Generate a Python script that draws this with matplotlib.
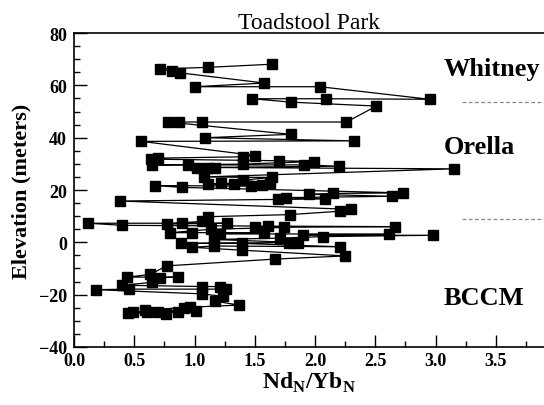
import matplotlib
matplotlib.use('Agg')
import matplotlib.pyplot as plt
from matplotlib.ticker import MultipleLocator, FormatStrFormatter

# Toadstool Park - Nd_N/Yb_N vs elevation
ndyb = [1.64, 1.11, 0.71, 0.81, 0.88, 1.58, 1.00, 2.04, 2.95, 2.09, 1.48, 1.80, 2.51,
        2.26, 1.06, 0.87, 0.78, 1.80, 1.09, 2.32, 0.56,
        1.50, 1.40, 0.70, 0.64, 1.70, 1.99, 1.40, 0.65, 0.95, 1.91, 2.20, 1.02, 1.11, 1.17, 3.15,
        1.08, 1.64, 1.40, 1.63, 1.22, 1.11, 1.56, 1.33, 1.47, 0.67, 0.90,
        2.73, 2.15, 1.95, 2.64, 1.76, 2.08, 1.69, 0.38,
        2.30, 2.21, 1.79, 1.11, 1.06, 0.90, 0.77, 1.27, 0.12, 0.40,
        1.61, 2.66, 1.50, 1.74, 1.14, 0.80, 0.98, 1.58, 1.21, 2.61, 1.90, 2.98, 2.07, 1.71,
        1.16, 1.86, 1.78, 0.89, 1.39, 2.21, 1.16, 0.98, 1.39, 2.25, 1.67, 0.77,
        0.63, 0.44, 0.86, 0.71, 0.65, 0.40, 1.06, 1.21, 1.26, 0.46, 0.18, 1.06, 1.24, 1.17,
        1.37, 0.96, 0.91, 0.59, 1.01, 0.49, 0.86, 0.70, 0.61, 0.76, 0.45]
elev = [68.1, 66.9, 66.3, 65.4, 64.8, 60.9, 59.5, 59.5, 54.7, 54.9, 54.9, 53.6, 52.1,
        46.0, 46.0, 46.0, 46.0, 41.3, 40.0, 38.8, 38.6,
        33.2, 32.7, 32.2, 31.8, 31.2, 30.9, 29.9, 29.6, 29.6, 29.6, 29.1, 28.6, 28.6, 28.6, 28.1,
        25.0, 24.8, 23.8, 22.5, 22.6, 22.2, 22.0, 22.2, 21.5, 21.7, 21.0,
        18.9, 18.7, 18.4, 17.6, 17.1, 16.6, 16.4, 15.8,
        12.6, 11.9, 10.6, 9.8, 8.0, 7.5, 7.0, 7.3, 7.3, 6.5,
        6.2, 6.0, 5.7, 5.7, 5.0, 3.7, 3.7, 3.7, 3.2, 3.2, 2.7, 2.7, 2.2, 1.6,
        1.1, -0.1, -0.1, -0.4, -0.4, -1.7, -1.4, -1.9, -3.0, -5.2, -6.4, -9.0,
        -12.3, -13.3, -13.3, -13.5, -15.3, -16.4, -16.9, -16.9, -17.9, -17.9, -18.1, -19.7, -20.7, -22.5,
        -24.0, -24.8, -25.0, -25.8, -26.3, -26.6, -26.6, -26.6, -26.8, -27.3, -26.9]

# limites de formaciones
boundaries = [53.6, 8.8]
formations = ['Whitney', 'Orella', 'BCCM']
formation_y = [66.5, 36.5, -21.0]

plt.rcParams['font.family'] = ['Liberation Serif', 'DejaVu Serif']
plt.rcParams['mathtext.fontset'] = 'custom'
plt.rcParams['mathtext.rm'] = 'Liberation Serif'
plt.rcParams['mathtext.bf'] = 'Liberation Serif:bold'

fig = plt.figure(figsize=(5.44, 4.06), dpi=100)
ax = fig.add_axes([0.136, 0.143, 0.864, 0.773])

ax.plot(ndyb, elev, color='black', lw=0.9, marker='s', ms=7, mfc='black', mec='black')

for b in boundaries:
    ax.plot([3.22, 3.9], [b, b], color='#888888', lw=0.9, ls=(0, (3, 2)))
for name, y in zip(formations, formation_y):
    ax.text(3.07, y, name, fontsize=19, fontweight='bold', va='center', ha='left')

ax.set_xlim(0, 3.9)
ax.set_ylim(-40, 80)
ax.xaxis.set_major_locator(MultipleLocator(0.5))
ax.xaxis.set_minor_locator(MultipleLocator(0.25))
ax.yaxis.set_major_locator(MultipleLocator(20))
ax.yaxis.set_minor_locator(MultipleLocator(5))
ax.tick_params(which='major', direction='in', length=9, width=1, labelsize=13)
ax.tick_params(axis='x', which='major', pad=4)
ax.tick_params(axis='y', which='major', pad=5)
ax.tick_params(which='minor', direction='in', length=4, width=1)
ax.xaxis.set_major_formatter(FormatStrFormatter('%.1f'))
for lab in ax.get_xticklabels() + ax.get_yticklabels():
    lab.set_fontweight('bold')
ax.spines['right'].set_visible(False)
for s in ['left', 'bottom', 'top']:
    ax.spines[s].set_linewidth(1.2)

ax.set_title('Toadstool Park', fontsize=17, pad=4)
ax.set_xlabel(r'Nd$_\mathbf{N}$/Yb$_\mathbf{N}$', fontsize=17, fontweight='bold', labelpad=0)
ax.set_ylabel('Elevation (meters)', fontsize=16, fontweight='bold', labelpad=5)

plt.savefig('out.png', dpi=100)
plt.close()
